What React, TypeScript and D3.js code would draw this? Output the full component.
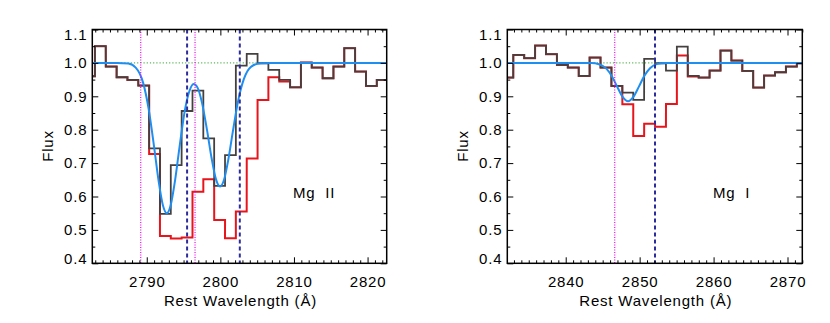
import React, { useEffect, useRef } from "react"
import * as d3 from "d3"

const WIDTH = 830, HEIGHT = 323;
const TOP = 29.5, BOTTOM = 263.3;
const FONT = "'Liberation Sans', Arial, Helvetica, sans-serif";

// Mg II panel: bin centres (rest wavelength, A) and binned flux
const MG2_WAVE = [2782.22, 2783.69, 2785.17, 2786.64, 2788.11, 2789.59, 2791.06, 2792.53, 2794.00, 2795.48,
	2796.95, 2798.42, 2799.90, 2801.37, 2802.84, 2804.32, 2805.79, 2807.26, 2808.74, 2810.21,
	2811.68, 2813.15, 2814.63, 2816.10, 2817.57, 2819.05, 2820.52, 2821.99];
const MG2_FLUX = [0.96, 1.05, 0.989, 0.957, 0.949, 0.932, 0.744, 0.548, 0.694, 0.856,
	0.917, 0.774, 0.632, 0.724, 0.992, 1.027, 0.999, 0.979, 0.949, 0.927,
	1.001, 0.986, 0.954, 0.989, 1.044, 0.974, 0.931, 0.949];
const MG2_FLUX_RED = [0.96, 1.05, 0.989, 0.957, 0.949, 0.932, 0.727, 0.482, 0.474, 0.477,
	0.614, 0.652, 0.530, 0.475, 0.555, 0.714, 0.889, 0.957, 0.944, 0.927,
	1.001, 0.986, 0.954, 0.989, 1.044, 0.974, 0.931, 0.949];
const MG2_BIN = 1.473;
const MG2_MODEL_WAVE = [2782.6, 2786.0, 2787.5, 2788.5, 2789.5, 2790.25, 2791.0, 2791.6, 2792.2, 2792.72,
	2793.25, 2793.85, 2794.45, 2795.2, 2795.8, 2796.35, 2796.9, 2797.5, 2798.2, 2798.8,
	2799.4, 2799.96, 2800.5, 2801.1, 2801.7, 2802.45, 2803.2, 2804.2, 2805.5, 2807.0, 2822.6];
const MG2_MODEL_FLUX = [1.0, 1.0, 0.998, 0.986, 0.941, 0.863, 0.748, 0.648, 0.573, 0.55,
	0.574, 0.649, 0.748, 0.861, 0.916, 0.937, 0.926, 0.881, 0.797, 0.716,
	0.652, 0.63, 0.65, 0.713, 0.795, 0.89, 0.952, 0.989, 0.999, 1.0, 1.0];
const MG2_DOTTED = [2789.18, 2796.56];
const MG2_DASHED = [2795.48, 2802.64];
const MG2_XTICKS = [2790, 2800, 2810, 2820];

// Mg I panel
const MG1_WAVE = [2832.17, 2833.65, 2835.12, 2836.60, 2838.07, 2839.55, 2841.02, 2842.50, 2843.97, 2845.45,
	2846.92, 2848.40, 2849.87, 2851.35, 2852.82, 2854.30, 2855.77, 2857.25, 2858.72, 2860.20,
	2861.67, 2863.15, 2864.62, 2866.10, 2867.57, 2869.05, 2870.52, 2872.00];
const MG1_FLUX = [0.956, 1.024, 1.014, 1.052, 1.026, 0.994, 0.986, 0.961, 1.016, 0.986,
	0.931, 0.911, 0.889, 1.012, 0.999, 0.977, 1.049, 0.961, 0.956, 0.977,
	1.037, 1.007, 0.976, 0.926, 0.962, 0.972, 0.989, 0.999];
const MG1_FLUX_RED = [0.956, 1.024, 1.014, 1.052, 1.026, 0.994, 0.986, 0.961, 1.016, 0.986,
	0.931, 0.876, 0.781, 0.818, 0.809, 0.877, 1.022, 0.959, 0.956, 0.977,
	1.037, 1.007, 0.976, 0.926, 0.962, 0.972, 0.989, 0.999];
const MG1_BIN = 1.475;
const MG1_MODEL_WAVE = [2832.1, 2843.5, 2844.5, 2845.5, 2846.3, 2847.0, 2847.7, 2848.43, 2849.15, 2849.9,
	2850.6, 2851.4, 2852.4, 2853.5, 2872.0];
const MG1_MODEL_FLUX = [1.0, 1.0, 0.996, 0.983, 0.958, 0.927, 0.898, 0.885, 0.898, 0.929,
	0.960, 0.984, 0.997, 1.0, 1.0];
const MG1_DOTTED = [2846.63];
const MG1_DASHED = [2852.08];
const MG1_XTICKS = [2840, 2850, 2860, 2870];

const FLUX_TICKS = [0.4, 0.5, 0.6, 0.7, 0.8, 0.9, 1.0, 1.1];
const FLUX_MINOR = [0.45, 0.55, 0.65, 0.75, 0.85, 0.95, 1.05];

const PANELS = [
	{ id: "mg2", left: 92.3, right: 386.7, domain: [2782.6, 2822.6], label: "Mg  II", labelX: 293,
		wave: MG2_WAVE, flux: MG2_FLUX, red: MG2_FLUX_RED, bin: MG2_BIN,
		modelWave: MG2_MODEL_WAVE, modelFlux: MG2_MODEL_FLUX,
		dotted: MG2_DOTTED, dashed: MG2_DASHED, xTicks: MG2_XTICKS },
	{ id: "mg1", left: 507.3, right: 802.3, domain: [2832.1, 2872.0], label: "Mg  I", labelX: 713,
		wave: MG1_WAVE, flux: MG1_FLUX, red: MG1_FLUX_RED, bin: MG1_BIN,
		modelWave: MG1_MODEL_WAVE, modelFlux: MG1_MODEL_FLUX,
		dotted: MG1_DOTTED, dashed: MG1_DASHED, xTicks: MG1_XTICKS }
];

// histogram outline: a flat segment across each bin
const steps = (centers, values, width) => {
	let pts = [];
	centers.forEach((c, i) => {
		pts.push([c - width / 2, values[i]]);
		pts.push([c + width / 2, values[i]]);
	});
	return pts;
}

const styleAxis = (g) => {
	g.select(".domain").remove();
	g.attr("font-size", 15).attr("font-family", FONT);
	g.selectAll(".tick line").attr("stroke", "#000").attr("stroke-width", 1);
	g.selectAll("text").attr("fill", "#000").attr("letter-spacing", 0.8);
}

const drawPanel = (svg, P) => {
	const x = d3.scaleLinear().domain(P.domain).range([P.left, P.right]);
	const y = d3.scaleLinear().domain([0.4, 1.1]).range([BOTTOM, TOP]);

	const minorX = d3.range(Math.ceil(P.domain[0]), Math.floor(P.domain[1]) + 1)
		.filter(v => v % 10 !== 0);

	svg.append("clipPath").attr("id", "clip-" + P.id)
		.append("rect")
		.attr("x", P.left).attr("y", TOP)
		.attr("width", P.right - P.left).attr("height", BOTTOM - TOP);

	const plot = svg.append("g").attr("clip-path", `url(#clip-${P.id})`);
	const line = d3.line().x(d => x(d[0])).y(d => y(d[1]));

	// continuum
	plot.append("line")
		.attr("x1", P.left).attr("x2", P.right)
		.attr("y1", y(1)).attr("y2", y(1))
		.attr("stroke", "#5cb85c").attr("stroke-width", 1.2)
		.attr("stroke-dasharray", "1.2,2");

	plot.append("path")
		.datum(steps(P.wave, P.red, P.bin))
		.attr("d", line)
		.attr("fill", "none").attr("stroke", "#e8141c").attr("stroke-width", 2);

	plot.append("path")
		.datum(steps(P.wave, P.flux, P.bin))
		.attr("d", line)
		.attr("fill", "none").attr("stroke", "#454040").attr("stroke-width", 1.8);

	plot.append("path")
		.datum(P.modelWave.map((w, i) => [w, P.modelFlux[i]]))
		.attr("d", line.curve(d3.curveMonotoneX))
		.attr("fill", "none").attr("stroke", "#1f8ef1").attr("stroke-width", 2);

	plot.selectAll(".dotted-line").data(P.dotted).enter().append("line")
		.attr("class", "dotted-line")
		.attr("x1", d => x(d)).attr("x2", d => x(d))
		.attr("y1", TOP).attr("y2", BOTTOM)
		.attr("stroke", "#ff00ff").attr("stroke-width", 1.2)
		.attr("stroke-dasharray", "1,1.5");

	plot.selectAll(".dashed-line").data(P.dashed).enter().append("line")
		.attr("class", "dashed-line")
		.attr("x1", d => x(d)).attr("x2", d => x(d))
		.attr("y1", TOP).attr("y2", BOTTOM)
		.attr("stroke", "#2b2b9b").attr("stroke-width", 2)
		.attr("stroke-dasharray", "4,3");

	// axes, ticks pointing inward on all four sides
	svg.append("g").attr("transform", `translate(0,${BOTTOM})`)
		.call(d3.axisBottom(x).tickValues(P.xTicks).tickSizeInner(-6).tickSizeOuter(0)
			.tickPadding(13).tickFormat(d3.format("d")))
		.call(styleAxis);
	svg.append("g").attr("transform", `translate(0,${BOTTOM})`)
		.call(d3.axisBottom(x).tickValues(minorX).tickSize(-3).tickFormat(() => ""))
		.call(styleAxis);
	svg.append("g").attr("transform", `translate(0,${TOP})`)
		.call(d3.axisTop(x).tickValues(P.xTicks).tickSize(-6).tickFormat(() => ""))
		.call(styleAxis);
	svg.append("g").attr("transform", `translate(0,${TOP})`)
		.call(d3.axisTop(x).tickValues(minorX).tickSize(-3).tickFormat(() => ""))
		.call(styleAxis);

	const left = svg.append("g").attr("transform", `translate(${P.left},0)`)
		.call(d3.axisLeft(y).tickValues(FLUX_TICKS).tickSizeInner(-6).tickSizeOuter(0)
			.tickPadding(5).tickFormat(d3.format(".1f")))
		.call(styleAxis);
	left.selectAll(".tick text")
		.attr("transform", d => d === 1.1 ? "translate(0,5)" : d === 0.4 ? "translate(0,-5)" : null);
	svg.append("g").attr("transform", `translate(${P.left},0)`)
		.call(d3.axisLeft(y).tickValues(FLUX_MINOR).tickSize(-3).tickFormat(() => ""))
		.call(styleAxis);
	svg.append("g").attr("transform", `translate(${P.right},0)`)
		.call(d3.axisRight(y).tickValues(FLUX_TICKS).tickSize(-6).tickFormat(() => ""))
		.call(styleAxis);
	svg.append("g").attr("transform", `translate(${P.right},0)`)
		.call(d3.axisRight(y).tickValues(FLUX_MINOR).tickSize(-3).tickFormat(() => ""))
		.call(styleAxis);

	svg.append("rect")
		.attr("x", P.left).attr("y", TOP)
		.attr("width", P.right - P.left).attr("height", BOTTOM - TOP)
		.attr("fill", "none").attr("stroke", "#000").attr("stroke-width", 1.5);

	// titles
	svg.append("text")
		.attr("x", (P.left + P.right) / 2 + 1).attr("y", 306)
		.attr("text-anchor", "middle")
		.attr("font-family", FONT).attr("font-size", 15).attr("letter-spacing", 0.8)
		.text("Rest Wavelength (Å)");
	svg.append("text")
		.attr("transform", `translate(${P.left - 39},146) rotate(-90)`)
		.attr("text-anchor", "middle")
		.attr("font-family", FONT).attr("font-size", 15).attr("letter-spacing", 0.8)
		.text("Flux");
	svg.append("text")
		.attr("x", P.labelX).attr("y", 197.5)
		.attr("font-family", FONT).attr("font-size", 15).attr("letter-spacing", 0.8)
		.style("white-space", "pre")
		.text(P.label);
}

export default function App() {
	const ref = useRef(null);

	useEffect(() => {
		const svg = d3.select(ref.current);
		svg.selectAll("*").remove();
		PANELS.forEach(P => drawPanel(svg, P));
	}, []);

	return (
		<svg ref={ ref } width={ WIDTH } height={ HEIGHT }
			style={ { position: "absolute", left: 0, top: 0, background: "#fff", display: "block" } }/>
	)
}
